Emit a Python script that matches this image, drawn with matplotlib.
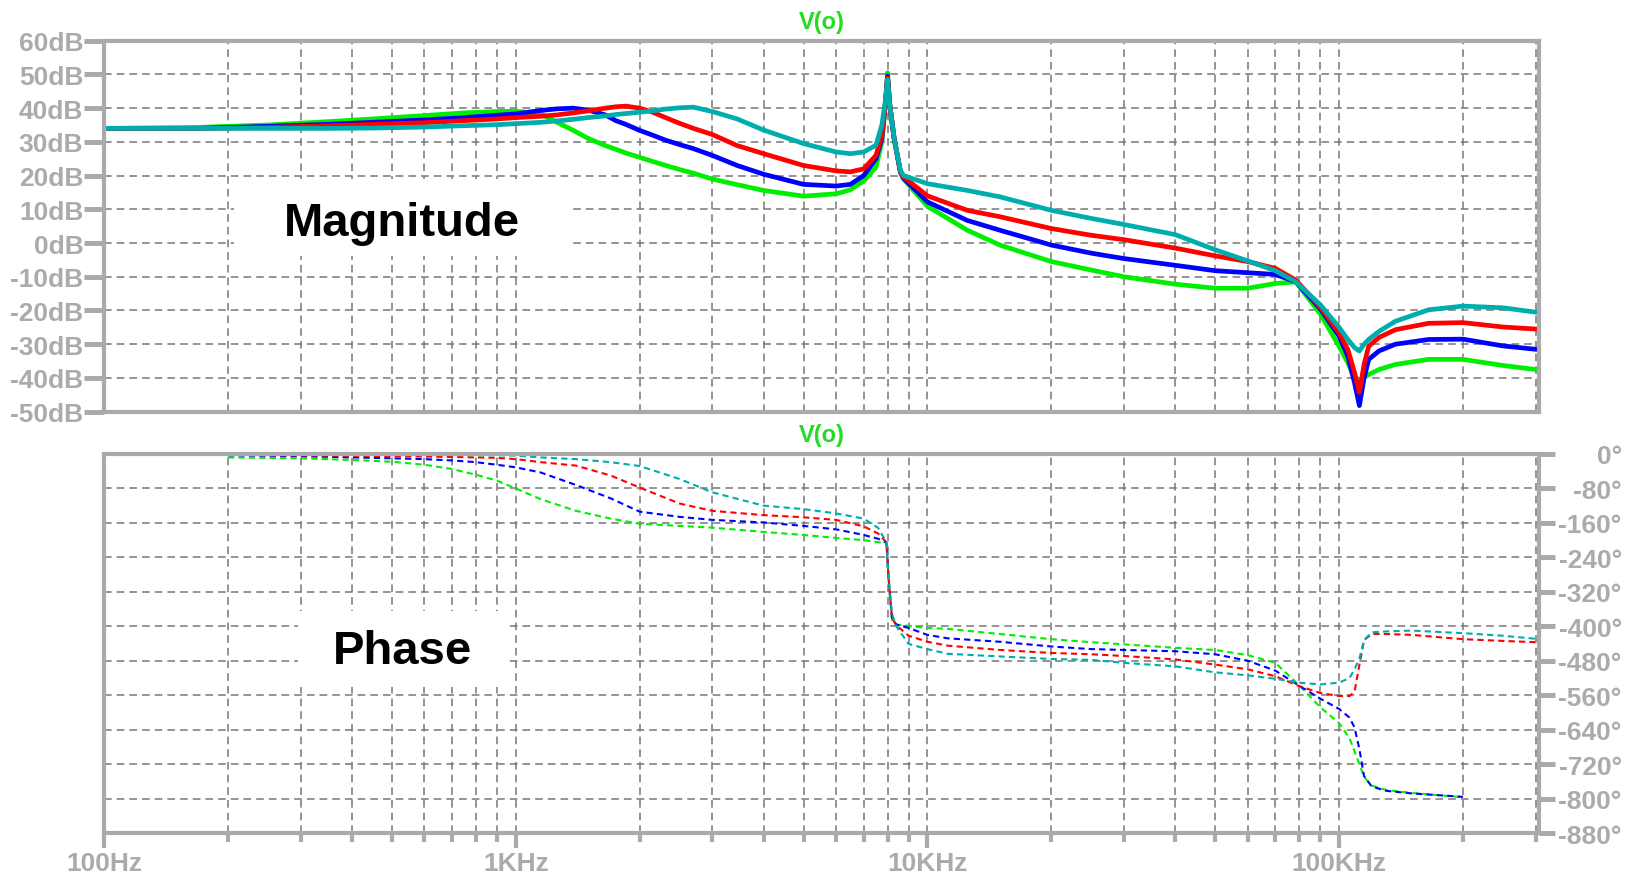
import numpy as np
import matplotlib
matplotlib.use("Agg")
import matplotlib.pyplot as plt
from matplotlib.ticker import FixedLocator, FixedFormatter, LogLocator, NullFormatter
from matplotlib.patches import Rectangle

# ---- magnitude data (dB) ----
f_mag = [100, 170, 250, 350, 450, 600, 750, 900, 1000,
         1150, 1260, 1380, 1500, 1650, 1750, 1850, 2000,
         2150, 2300, 2500, 2700, 3000, 3450, 4000, 5000,
         6000, 6500, 7000, 7500, 7750, 7900, 8000, 8100,
         8300, 8600, 8750, 10000, 12500, 15000, 20000, 25000,
         30000, 40000, 50000, 60000, 70000, 78500, 90000, 100000,
         105000, 109000, 112000, 115000, 118000, 125000, 137000, 165000,
         200000, 250000, 300000]

mag_green = [34.0, 34.3, 35.0, 36.0, 36.8, 37.8, 38.6, 39.0, 39.1,
             38.3, 35.8, 33.4, 31.0, 28.9, 27.8, 26.7, 25.4,
             24.2, 23.1, 21.8, 20.7, 19.0, 17.3, 15.6, 13.9,
             14.6, 15.8, 18.4, 22.5, 30.0, 41.0, 50.5, 41.0,
             31.0, 21.0, 19.0, 10.9, 3.8, -0.6, -5.5, -8.0,
             -10.0, -12.2, -13.4, -13.4, -12.0, -11.5, -21.0, -30.6,
             -35.5, -40.0, -40.5, -39.8, -39.0, -37.5, -36.0, -34.5,
             -34.5, -36.3, -37.5]

mag_blue = [34.0, 34.0, 34.6, 35.2, 35.8, 36.5, 37.2, 37.9, 38.3,
            39.3, 39.8, 40.0, 39.4, 38.0, 36.3, 35.2, 33.4,
            32.0, 30.6, 29.2, 28.0, 26.0, 23.0, 20.4, 17.4,
            16.9, 17.4, 20.0, 25.0, 31.0, 41.0, 49.5, 41.0,
            31.0, 21.0, 19.2, 12.2, 6.7, 3.8, -0.6, -3.0,
            -4.6, -6.6, -8.2, -8.8, -9.3, -11.5, -19.5, -27.6,
            -33.5, -41.4, -48.2, -40.0, -34.5, -32.0, -30.0, -28.6,
            -28.5, -30.5, -31.5]

mag_red = [34.0, 34.0, 34.3, 34.8, 35.2, 35.7, 36.3, 36.8, 37.2,
           37.6, 38.0, 38.6, 39.2, 40.0, 40.4, 40.6, 40.0,
           38.8, 37.3, 35.5, 34.0, 32.2, 28.9, 26.5, 23.0,
           21.4, 21.1, 22.0, 26.0, 32.0, 41.0, 49.0, 41.0,
           31.0, 21.0, 19.6, 14.0, 9.7, 7.8, 4.3, 2.3,
           1.0, -1.5, -3.8, -5.5, -7.5, -11.0, -19.0, -26.7,
           -31.6, -38.4, -44.3, -36.0, -30.6, -28.0, -25.7, -23.8,
           -23.6, -24.9, -25.5]

mag_cyan = [34.0, 34.0, 34.0, 34.0, 34.1, 34.4, 34.8, 35.1, 35.4,
            35.8, 36.2, 36.7, 37.2, 37.7, 38.1, 38.4, 38.8,
            39.2, 39.7, 40.1, 40.3, 39.0, 36.8, 33.5, 29.5,
            27.0, 26.5, 27.0, 29.0, 35.0, 42.0, 48.5, 41.0,
            31.0, 21.5, 20.0, 17.6, 15.6, 13.7, 9.7, 7.3,
            5.5, 2.5, -2.0, -5.3, -8.2, -11.5, -18.3, -25.0,
            -28.6, -31.0, -32.0, -30.0, -28.6, -26.2, -23.2, -19.8,
            -18.7, -19.2, -20.5]

# ---- phase data (degrees) ----
f_ph = [200, 300, 400, 500, 600, 700, 800, 900, 1000, 1150, 1400, 1700, 2000, 2500,
        3000, 4000, 5000, 6000, 7000, 7600, 7950, 8050, 8200, 8400, 9000, 10000, 11200,
        15000, 20000, 25000, 30000, 40000, 50000, 60000, 70000, 80000, 90000, 100000,
        106000, 109000, 112000, 115000, 120000, 130000, 150000, 200000, 250000, 300000]

ph_green = [-8, -10, -14, -18, -25, -35, -48, -62, -80, -105, -132, -150, -162, -167,
            -171, -181, -188, -195, -200, -205, -208, -300, -385, -396, -399, -404, -406,
            -418, -430, -437, -442, -450, -455, -467, -485, -537, -588, -625,
            -660, -690, -720, -750, -770, -780, -787, -797]

ph_blue = [-3, -5, -8, -10, -12, -15, -19, -25, -31, -43, -72, -103, -134, -146,
           -153, -159, -167, -175, -188, -197, -206, -290, -380, -396, -404, -420, -428,
           -436, -447, -453, -455, -458, -465, -480, -503, -538, -568, -592,
           -612, -635, -685, -748, -772, -782, -788, -796]

ph_red = [-2, -3, -4, -5, -6, -7, -8, -9, -12, -19, -27, -50, -78, -115,
          -132, -142, -147, -153, -168, -185, -205, -290, -380, -398, -422, -436, -445,
          -455, -462, -465, -469, -477, -489, -500, -516, -539, -555, -562,
          -562, -552, -490, -432, -418, -418, -420, -430, -434, -437]

ph_cyan = [-1, -1, -1.5, -2, -2, -2.5, -3, -3, -4, -8, -12, -19, -28, -58,
           -89, -120, -128, -138, -150, -172, -205, -290, -370, -400, -441, -453, -464,
           -470, -476, -478, -485, -493, -507, -514, -522, -531, -535, -531,
           -520, -500, -475, -432, -414, -412, -410, -416, -422, -429]

colors = {"green": "#00ee00", "blue": "#0000ff", "red": "#ff0000", "cyan": "#00adad"}

mag_ticks = [60, 50, 40, 30, 20, 10, 0, -10, -20, -30, -40, -50]
mag_labels = ["60dB", "50dB", "40dB", "30dB", "20dB", "10dB", "0dB", "-10dB", "-20dB",
              "-30dB", "-40dB", "-50dB"]
ph_ticks = [0, -80, -160, -240, -320, -400, -480, -560, -640, -720, -800, -880]
ph_labels = ["0°", "-80°", "-160°", "-240°", "-320°", "-400°", "-480°", "-560°",
             "-640°", "-720°", "-800°", "-880°"]
f_ticks = [100, 1000, 10000, 100000]
f_labels = ["100Hz", "1KHz", "10KHz", "100KHz"]

plt.rcParams["font.family"] = ["Liberation Sans", "DejaVu Sans"]

frame = "#aaaaaa"
grid_c = "#777777"
lab_c = "#ababab"

fig = plt.figure(figsize=(16.34, 8.78), dpi=100)
ax1 = fig.add_axes([0.0637, 0.530, 0.8782, 0.4225])
ax2 = fig.add_axes([0.0637, 0.0501, 0.8782, 0.4317])

for ax in (ax1, ax2):
    ax.set_xscale("log")
    ax.set_xlim(100, 306000)
    ax.xaxis.set_major_locator(FixedLocator(f_ticks))
    ax.xaxis.set_minor_locator(LogLocator(base=10, subs=range(2, 10), numticks=20))
    ax.xaxis.set_minor_formatter(NullFormatter())
    for s in ax.spines.values():
        s.set_color(frame)
        s.set_linewidth(3.0)
    ax.grid(True, which="major", axis="both", color=grid_c, linewidth=1.1,
            linestyle=(0, (5, 3.3)))
    ax.grid(True, which="minor", axis="x", color=grid_c, linewidth=1.1,
            linestyle=(0, (5, 3.3)))

# magnitude panel
ax1.set_ylim(-50, 60)
ax1.yaxis.set_major_locator(FixedLocator(mag_ticks))
ax1.yaxis.set_major_formatter(FixedFormatter(mag_labels))
ax1.tick_params(axis="y", direction="out", length=14.5, width=3.6, color=frame,
                labelcolor=lab_c, labelsize=19, pad=0.5)
ax1.tick_params(axis="x", which="both", length=0, labelbottom=False)
for lbl in ax1.get_yticklabels():
    lbl.set_fontweight("bold")

for name, vals in [("green", mag_green), ("blue", mag_blue), ("red", mag_red), ("cyan", mag_cyan)]:
    ax1.plot(f_mag, vals, color=colors[name], linewidth=3.4, solid_joinstyle="round")

# phase panel
ax2.set_ylim(-880, 0)
ax2.yaxis.tick_right()
ax2.yaxis.set_major_locator(FixedLocator(ph_ticks))
ax2.yaxis.set_major_formatter(FixedFormatter(ph_labels))
ax2.tick_params(axis="y", direction="out", length=11.5, width=3.6, color=frame,
                labelcolor=lab_c, labelsize=19, pad=48)
for lbl in ax2.get_yticklabels():
    lbl.set_horizontalalignment("right")
    lbl.set_fontweight("bold")
ax2.xaxis.set_major_formatter(FixedFormatter(f_labels))
ax2.tick_params(axis="x", which="major", direction="out", length=11, width=3,
                color=frame, labelcolor=lab_c, labelsize=19, pad=2)
ax2.tick_params(axis="x", which="minor", direction="out", length=6.5, width=3,
                color=frame)
for lbl in ax2.get_xticklabels():
    lbl.set_fontweight("bold")

n_gb = len(ph_green)
ax2.plot(f_ph[:n_gb], ph_green, color=colors["green"], linewidth=1.5, linestyle=(0, (3, 2)))
ax2.plot(f_ph[:n_gb], ph_blue, color=colors["blue"], linewidth=1.5, linestyle=(0, (3, 2)))
ax2.plot(f_ph, ph_red, color=colors["red"], linewidth=1.5, linestyle=(0, (3, 2)))
ax2.plot(f_ph, ph_cyan, color=colors["cyan"], linewidth=1.5, linestyle=(0, (3, 2)))

# trace names
for ax, yy in ((ax1, 1.053), (ax2, 1.0515)):
    ax.text(0.5, yy, "V(o)", transform=ax.transAxes, ha="center", va="center",
            color="#22dd22", fontsize=17, fontweight="bold", clip_on=False)

# panel captions on white boxes
ax1.add_patch(Rectangle((0.0906, 0.420), 0.234, 0.207, transform=ax1.transAxes,
                        facecolor="white", edgecolor="none", zorder=1.8))
ax1.text(0.2077, 0.509, "Magnitude", transform=ax1.transAxes, ha="center", va="center",
         fontsize=34, fontweight="bold", color="black", zorder=3)
ax2.add_patch(Rectangle((0.135, 0.385), 0.147, 0.2015, transform=ax2.transAxes,
                        facecolor="white", edgecolor="none", zorder=1.8))
ax2.text(0.208, 0.481, "Phase", transform=ax2.transAxes, ha="center", va="center",
         fontsize=34, fontweight="bold", color="black", zorder=3)

fig.savefig("out.png", dpi=100)
